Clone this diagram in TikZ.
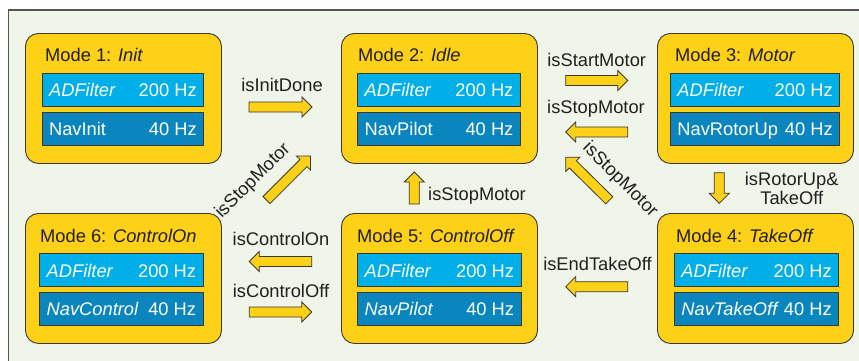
\documentclass[tikz,border=0pt]{standalone}
\usepackage{fontspec}
\setmainfont{Liberation Sans}
\usetikzlibrary{calc}
\definecolor{bgc}{RGB}{239,245,232}
\definecolor{framec}{RGB}{85,85,85}
\definecolor{yel}{RGB}{252,209,24}
\definecolor{lblue}{RGB}{0,174,232}
\definecolor{dblue}{RGB}{10,133,189}
\definecolor{ink}{RGB}{35,31,32}
\definecolor{edge}{RGB}{60,55,50}
\newcommand\rowtxt[3]{\hbox to #1{#2\hfill#3}}
\begin{document}
\begin{tikzpicture}[x=1pt,y=-1pt,
  font=\fontsize{18.3pt}{21pt}\selectfont,
  modebox/.style={draw=edge, line width=0.9pt, fill=yel, rounded corners=13pt,
    minimum width=196pt, minimum height=130pt, anchor=north west, inner sep=0pt},
  rowbox/.style={draw=edge, line width=0.8pt, anchor=north west, minimum height=33pt,
    inner sep=0pt, text=white, text height=14pt, text depth=0pt, minimum width=#1},
  rowa/.style={rowbox=#1, fill=lblue},
  rowb/.style={rowbox=#1, fill=dblue},
  title/.style={anchor=base west, inner sep=0pt, text=ink},
  lbl/.style={anchor=base, inner sep=0pt, text=ink, align=center},
  rlbl/.style={anchor=center, inner sep=0pt, text=ink},
  blockarrow/.style={draw=edge, fill=yel, line width=0.8pt, line join=miter,
    to path={let \p1=($(\tikztotarget)!10pt!(\tikztostart)$) in
      ($(\tikztostart)!5pt!90:(\tikztotarget)$)
      -- ($(\p1)!5pt!90:(\tikztotarget)$)
      -- ($(\p1)!10pt!90:(\tikztotarget)$)
      -- (\tikztotarget)
      -- ($(\p1)!10pt!-90:(\tikztotarget)$)
      -- ($(\p1)!5pt!-90:(\tikztotarget)$)
      -- ($(\tikztostart)!5pt!-90:(\tikztotarget)$)
      -- cycle}}
]
\useasboundingbox (0,0) rectangle (859,360);
\fill[white] (0,0) rectangle (859,360);
\begin{scope}
  \clip (0,0) rectangle (859,360);
  \draw[fill=bgc, draw=framec, line width=1.2pt] (8.5,10) rectangle (880,380);
\end{scope}

% Mode boxes
\node[modebox] (m1) at (25,33) {};
\node[modebox] (m2) at (341,33) {};
\node[modebox] (m3) at (657,33) {};
\node[modebox] (m6) at (25,213) {};
\node[modebox] (m5) at (341,213) {};
\node[modebox] (m4) at (657,213) {};

% Titles
\node[title] (t1) at (45,61) {Mode 1: \textit{Init}};
\node[title] (t2) at (358,61) {Mode 2: \textit{Idle}};
\node[title] (t3) at (675,61) {Mode 3: \textit{Motor}};
\node[title] (t6) at (40,242) {Mode 6: \textit{ControlOn}};
\node[title] (t5) at (357,242) {Mode 5: \textit{ControlOff}};
\node[title] (t4) at (676,242) {Mode 4: \textit{TakeOff}};

% Rows
\node[rowa=161.6pt] (m1a) at (41.7,73) {\rowtxt{147.6pt}{\textit{ADFilter}}{200 Hz}};
\node[rowb=161.6pt] (m1b) at (41.7,111.5) {\rowtxt{147.6pt}{NavInit}{40 Hz}};
\node[rowa=162.7pt] (m2a) at (357.3,73) {\rowtxt{148.7pt}{\textit{ADFilter}}{200 Hz}};
\node[rowb=162.7pt] (m2b) at (357.3,111.5) {\rowtxt{148.7pt}{NavPilot}{40 Hz}};
\node[rowa=169.3pt] (m3a) at (670,73) {\rowtxt{155.3pt}{\textit{ADFilter}}{200 Hz}};
\node[rowb=169.3pt] (m3b) at (670,111.5) {\rowtxt{155.3pt}{NavRotorUp}{40 Hz}};
\node[rowa=163.4pt] (m6a) at (39.3,253.3) {\rowtxt{149.4pt}{\textit{ADFilter}}{200 Hz}};
\node[rowb=163.4pt] (m6b) at (39.3,291.7) {\rowtxt{149.4pt}{\textit{NavControl}}{40 Hz}};
\node[rowa=163.4pt] (m5a) at (357.3,253.3) {\rowtxt{149.4pt}{\textit{ADFilter}}{200 Hz}};
\node[rowb=163.4pt] (m5b) at (357.3,291.7) {\rowtxt{149.4pt}{\textit{NavPilot}}{40 Hz}};
\node[rowa=164.3pt] (m4a) at (674,253.3) {\rowtxt{150.3pt}{\textit{ADFilter}}{200 Hz}};
\node[rowb=164.3pt] (m4b) at (674,291.7) {\rowtxt{150.3pt}{\textit{NavTakeOff}}{40 Hz}};

% Arrow end points
\coordinate (a1t) at (249,107);   \coordinate (a1h) at (312,107);
\coordinate (a2t) at (565.7,80.5); \coordinate (a2h) at (627.7,80.5);
\coordinate (a3t) at (627.7,132); \coordinate (a3h) at (565.7,132);
\coordinate (a4t) at (266.5,200); \coordinate (a4h) at (310.5,156);
\coordinate (a5t) at (609.3,200.3); \coordinate (a5h) at (565.7,157.3);
\coordinate (a6t) at (414.3,204); \coordinate (a6h) at (414.3,172);
\coordinate (a7t) at (719.3,172.7); \coordinate (a7h) at (719.3,203.3);
\coordinate (a8t) at (627.7,286.7); \coordinate (a8h) at (565.7,286.7);
\coordinate (a9t) at (311.7,261.5); \coordinate (a9h) at (249.3,261.5);
\coordinate (a10t) at (249.3,312); \coordinate (a10h) at (311.7,312);

\draw[blockarrow] (a1t) to (a1h);
\draw[blockarrow] (a2t) to (a2h);
\draw[blockarrow] (a3t) to (a3h);
\draw[blockarrow] (a4t) to (a4h);
\draw[blockarrow] (a5t) to (a5h);
\draw[blockarrow] (a6t) to (a6h);
\draw[blockarrow] (a7t) to (a7h);
\draw[blockarrow] (a8t) to (a8h);
\draw[blockarrow] (a9t) to (a9h);
\draw[blockarrow] (a10t) to (a10h);

% Labels
\node[lbl] (l1) at (282,91.7) {isInitDone};
\node[lbl] (l2) at (596.7,66.7) {isStartMotor};
\node[lbl] (l3) at (596,113) {isStopMotor};
\node[rlbl, rotate=45] (l4) at (253,181) {isStopMotor};
\node[rlbl, rotate=-45] (l5) at (620,180) {isStopMotor};
\node[anchor=base west, inner sep=0pt, text=ink] (l6) at (428,200.5) {isStopMotor};
\node[lbl] (l7) at (791.7,185.7) {isRotorUp\&};
\node[lbl] (l7b) at (791.7,204) {TakeOff};
\node[lbl] (l8) at (597.5,270.7) {isEndTakeOff};
\node[lbl] (l9) at (281,245.7) {isControlOn};
\node[lbl] (l10) at (281,297.3) {isControlOff};
\end{tikzpicture}
\end{document}
